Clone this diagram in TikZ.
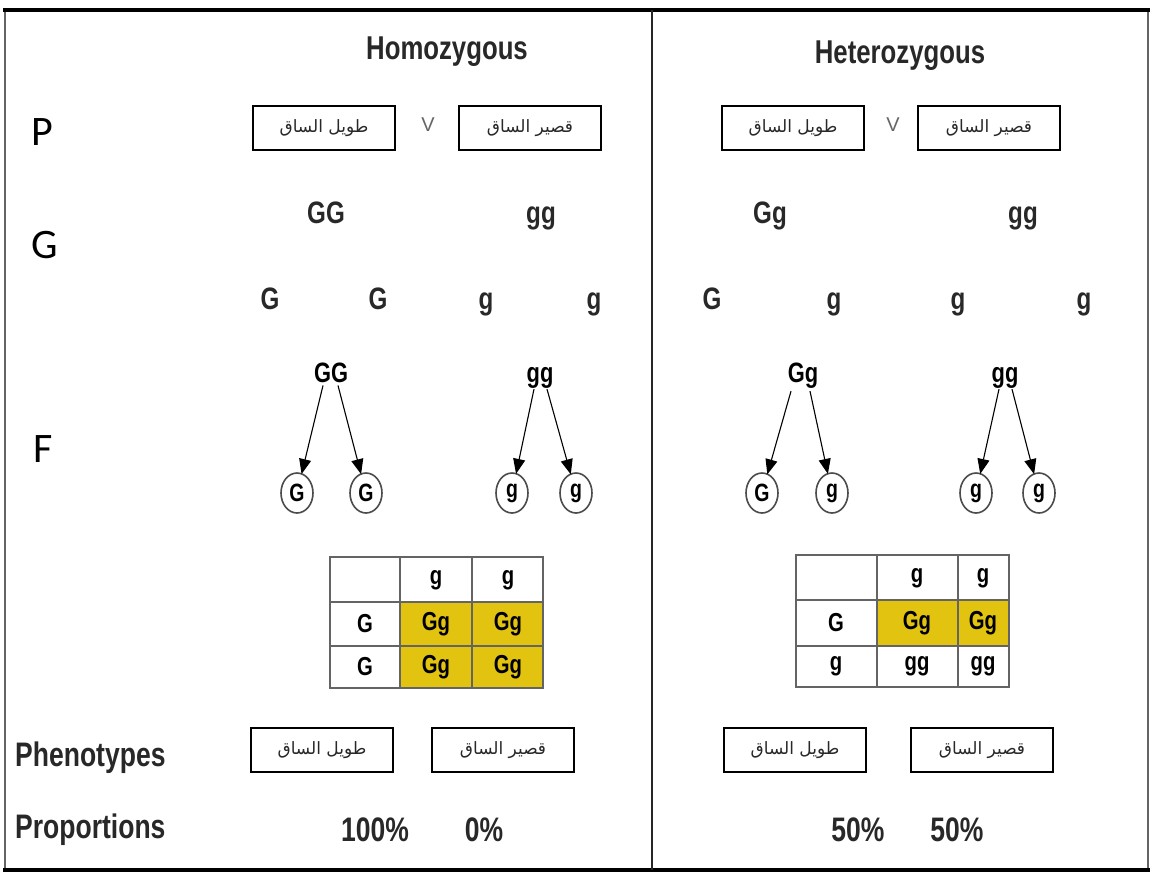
\documentclass[tikz,border=0pt]{standalone}
\usepackage{fontspec}
\usetikzlibrary{arrows.meta,shapes.geometric}
\setmainfont{Liberation Sans}
\newfontfamily\narrowfont[FakeStretch=0.78]{Liberation Sans}
\newfontfamily\calfont{Carlito}
\newfontfamily\arabicfont[Script=Arabic]{DejaVu Sans}
\TeXXeTstate=1
\definecolor{ink}{RGB}{40,40,40}
\definecolor{punnett}{RGB}{226,196,16}
\definecolor{gridgray}{RGB}{100,100,100}
\newcommand{\fsz}[1]{\fontsize{#1}{#1}\selectfont}
\newcommand{\tall}{\beginR طويل الساق\endR}
\newcommand{\short}{\beginR قصير الساق\endR}

\tikzset{
  heading/.style={font=\narrowfont\bfseries\fsz{33}, text=ink, anchor=base, inner sep=0pt},
  rowlabel/.style={font=\calfont\fsz{42}, text=black, anchor=base west, inner sep=0pt},
  sidelabel/.style={font=\narrowfont\bfseries\fsz{34}, text=ink, anchor=base west, inner sep=0pt},
  allele/.style={font=\narrowfont\bfseries\fsz{31}, text=ink, anchor=base, inner sep=0pt},
  treetop/.style={font=\narrowfont\bfseries\fsz{28}, text=black, anchor=base, inner sep=0pt},
  percent/.style={font=\narrowfont\bfseries\fsz{34}, text=ink, anchor=base, inner sep=0pt},
  traitbox/.style={draw=black, line width=1.7pt, minimum width=142pt, minimum height=44pt,
    inner sep=0pt, font=\arabicfont\fsz{17}, text=ink},
  gamete/.style={ellipse, draw=black!70, line width=1.6pt, minimum width=32pt,
    minimum height=40pt, inner sep=0pt, font=\narrowfont\bfseries\fsz{25}, text=black},
  arr/.style={-{Triangle[length=15pt,width=12pt]}, line width=1.1pt, black, shorten >=-1pt},
  cellt/.style={font=\narrowfont\bfseries\fsz{26}, text=black, inner sep=0pt},
  cross/.style={font=\fsz{20}, text=black!60, inner sep=0pt},
  grid/.style={draw=gridgray, line width=1.8pt},
}

\begin{document}
\begin{tikzpicture}[x=1pt,y=-1pt]
\useasboundingbox (0,0) rectangle (1152,876);
\fill[white] (0,0) rectangle (1152,876);

% frame and column divider
\draw[gridgray, line width=2pt] (5,10) rectangle (1148,870);
\draw[black, line width=3.5pt] (3,10) -- (1150,10);
\draw[black, line width=3.5pt] (3,870) -- (1150,870);
\draw[black!85, line width=1.5pt] (652,10) -- (652,870);

% headings and row labels
\node[heading] (homo) at (447,59) {Homozygous};
\node[heading] (hetero) at (900,63) {Heterozygous};
\node[rowlabel] (lP) at (31,145) {P};
\node[rowlabel] (lG) at (31,258) {G};
\node[rowlabel] (lF) at (33,462) {F};
\node[sidelabel] (lphen) at (15,766) {Phenotypes};
\node[sidelabel] (lprop) at (15,838) {Proportions};

% parents
\node[traitbox] (p1) at (324,128) {\tall};
\node[cross] (v1) at (428,125) {V};
\node[traitbox] (p2) at (530,128) {\short};
\node[traitbox] (p3) at (793,128) {\tall};
\node[cross] (v2) at (893,125) {V};
\node[traitbox] (p4) at (989,128) {\short};

% parental genotypes
\node[allele] (ga1) at (326,223) {GG};
\node[allele] (ga2) at (541,223) {gg};
\node[allele] (ga3) at (770,223) {Gg};
\node[allele] (ga4) at (1023,223) {gg};

% gametes
\node[allele] (gm1) at (270,309) {G};
\node[allele] (gm2) at (378,309) {G};
\node[allele] (gm3) at (486,309) {g};
\node[allele] (gm4) at (594,309) {g};
\node[allele] (gm5) at (712,309) {G};
\node[allele] (gm6) at (834,309) {g};
\node[allele] (gm7) at (958,309) {g};
\node[allele] (gm8) at (1084,309) {g};

% segregation trees
\node[treetop] (t1) at (331,382) {GG};
\node[treetop] (t2) at (540,382) {gg};
\node[treetop] (t3) at (803,382) {Gg};
\node[treetop] (t4) at (1005,382) {gg};

\node[gamete] (c1) at (297,493) {G};
\node[gamete] (c2) at (366,493) {G};
\node[gamete] (c3) at (512,493) {g};
\node[gamete] (c4) at (576,493) {g};
\node[gamete] (c5) at (762,493) {G};
\node[gamete] (c6) at (832,493) {g};
\node[gamete] (c7) at (976,493) {g};
\node[gamete] (c8) at (1039,493) {g};

\draw[arr] ([xshift=-8pt,yshift=-3pt]t1.south) -- (c1);
\draw[arr] ([xshift=7pt,yshift=-3pt]t1.south) -- (c2);
\draw[arr] ([xshift=-6pt,yshift=-1pt]t2.south) -- (c3);
\draw[arr] ([xshift=7pt,yshift=-1pt]t2.south) -- (c4);
\draw[arr] ([xshift=-12pt,yshift=-3pt]t3.south) -- (c5);
\draw[arr] ([xshift=7pt,yshift=-3pt]t3.south) -- (c6);
\draw[arr] ([xshift=-6pt,yshift=-1pt]t4.south) -- (c7);
\draw[arr] ([xshift=7pt,yshift=-1pt]t4.south) -- (c8);

% Punnett square, homozygous cross
\fill[punnett] (400,602) rectangle (543,688);
\draw[grid] (330,557) rectangle (543,688);
\draw[grid] (400,557) -- (400,688) (472,557) -- (472,688)
            (330,602) -- (543,602) (330,646) -- (543,646);
\node[cellt] (a12) at (436,580) {g};
\node[cellt] (a13) at (508,580) {g};
\node[cellt] (a21) at (365,624) {G};
\node[cellt] (a22) at (436,624) {Gg};
\node[cellt] (a23) at (508,624) {Gg};
\node[cellt] (a31) at (365,667) {G};
\node[cellt] (a32) at (436,667) {Gg};
\node[cellt] (a33) at (508,667) {Gg};

% Punnett square, heterozygous cross
\fill[punnett] (877,600) rectangle (1009,646);
\draw[grid] (796,555) rectangle (1009,687);
\draw[grid] (877,555) -- (877,687) (958,555) -- (958,687)
            (796,600) -- (1009,600) (796,646) -- (1009,646);
\node[cellt] (b12) at (917,578) {g};
\node[cellt] (b13) at (983,578) {g};
\node[cellt] (b21) at (836,623) {G};
\node[cellt] (b22) at (917,623) {Gg};
\node[cellt] (b23) at (983,623) {Gg};
\node[cellt] (b31) at (836,666) {g};
\node[cellt] (b32) at (917,666) {gg};
\node[cellt] (b33) at (983,666) {gg};

% phenotypes
\node[traitbox] (f1) at (322,750) {\tall};
\node[traitbox] (f2) at (503,750) {\short};
\node[traitbox] (f3) at (795,750) {\tall};
\node[traitbox] (f4) at (982,750) {\short};

% proportions
\node[percent] (r1) at (375,841) {100\%};
\node[percent] (r2) at (484,841) {0\%};
\node[percent] (r3) at (858,841) {50\%};
\node[percent] (r4) at (957,841) {50\%};
\end{tikzpicture}
\end{document}
